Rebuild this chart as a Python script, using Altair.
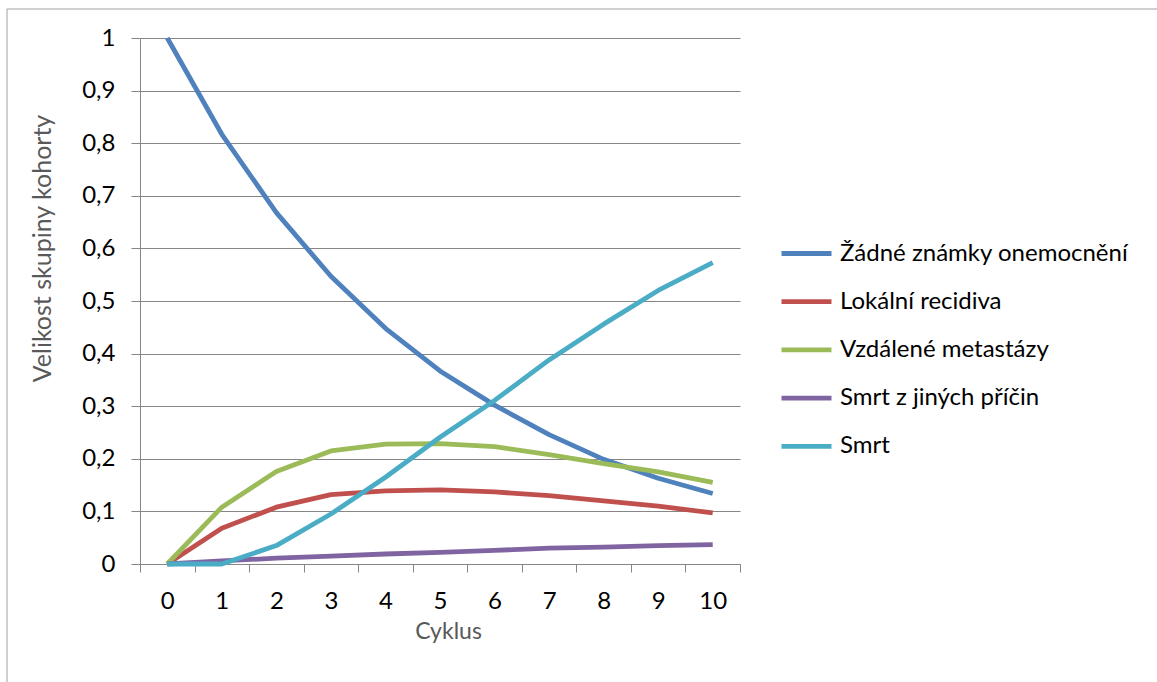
import altair as alt
import pandas as pd

cycles = [0, 1, 2, 3, 4, 5, 6, 7, 8, 9, 10]
series_names = [
    "Žádné známky onemocnění",
    "Lokální recidiva",
    "Vzdálené metastázy",
    "Smrt z jiných příčin",
    "Smrt",
]
no_disease = [1.0, 0.817, 0.668, 0.547, 0.448, 0.367, 0.302, 0.246, 0.199, 0.163, 0.134]
local_recurrence = [0.0, 0.068, 0.108, 0.132, 0.139, 0.141, 0.137, 0.130, 0.120, 0.110, 0.097]
distant_metastases = [0.0, 0.108, 0.176, 0.215, 0.228, 0.229, 0.223, 0.208, 0.191, 0.175, 0.155]
other_death = [0.0, 0.006, 0.011, 0.015, 0.019, 0.022, 0.026, 0.030, 0.032, 0.035, 0.037]
death = [0.0, 0.0, 0.035, 0.095, 0.165, 0.241, 0.311, 0.388, 0.456, 0.520, 0.573]
colors = ["#4F81BD", "#C0504D", "#9BBB59", "#8064A2", "#4BACC6"]
y_ticks = [0, 0.1, 0.2, 0.3, 0.4, 0.5, 0.6, 0.7, 0.8, 0.9, 1.0]

all_series = [no_disease, local_recurrence, distant_metastases, other_death, death]
rows = []
for k, (name, vals) in enumerate(zip(series_names, all_series)):
    for c, v in zip(cycles, vals):
        rows.append({"Cyklus": c, "value": v, "series": name, "k": k})
df = pd.DataFrame(rows)

GRID = "#868686"
FONT = "Lato"

lines = alt.Chart(df).mark_line(strokeWidth=4.8, strokeJoin="round").encode(
    x=alt.X(
        "Cyklus:O",
        bandPosition=0.5,
        scale=alt.Scale(type="band", paddingInner=0, paddingOuter=0),
        axis=alt.Axis(
            title="Cyklus",
            labelAngle=0,
            tickBand="extent",
            grid=False,
            domainColor=GRID,
            tickColor=GRID,
            tickSize=8,
            labelFont=FONT,
            labelFontSize=24,
            labelColor="black",
            labelBaseline="middle",
            labelPadding=29,
            titleFont=FONT,
            titleFontSize=23,
            titleFontWeight="normal",
            titleColor="#595959",
            titleX=308,
            titleY=67,
            titleBaseline="middle",
            titleAlign="center",
        ),
    ),
    y=alt.Y(
        "value:Q",
        scale=alt.Scale(domain=[0, 1], nice=False, zero=True),
        axis=alt.Axis(
            title="Velikost skupiny kohorty",
            values=y_ticks,
            labelExpr="replace(toString(round(datum.value*10)/10), '.', ',')",
            grid=True,
            gridColor=GRID,
            gridWidth=1,
            domainColor=GRID,
            tickColor=GRID,
            tickSize=9,
            labelFont=FONT,
            labelFontSize=24,
            labelColor="black",
            labelPadding=16,
            titleFont=FONT,
            titleFontSize=25,
            titleFontWeight="normal",
            titleColor="#595959",
            titleX=-98,
            titleY=210,
            titleAngle=270,
            titleBaseline="middle",
            titleAlign="center",
        ),
    ),
    color=alt.Color(
        "series:N",
        scale=alt.Scale(domain=series_names, range=colors),
        legend=alt.Legend(
            title=None,
            orient="none",
            legendX=639,
            legendY=188,
            symbolType="stroke",
            symbolStrokeWidth=4.8,
            symbolSize=2500,
            rowPadding=8.2,
            labelFont=FONT,
            labelFontSize=24,
            labelColor="black",
            labelOffset=6,
            labelLimit=400,
        ),
    ),
    order=alt.Order("k:Q"),
)

border = alt.Chart(pd.DataFrame({"a": [0]})).mark_rect(
    fillOpacity=0, stroke="#A0A0A0", strokeWidth=1
).encode(
    x=alt.value(-133),
    x2=alt.value(1030),
    y=alt.value(-29),
    y2=alt.value(660),
)

chart = alt.layer(border, lines).properties(
    width=600,
    height=526,
    padding={"left": 140, "top": 38, "right": 417, "bottom": 118},
    autosize=alt.AutoSizeParams(type="none"),
).configure_view(stroke=None)

chart.save("out.html", embed_options={"renderer": "svg", "actions": False})
